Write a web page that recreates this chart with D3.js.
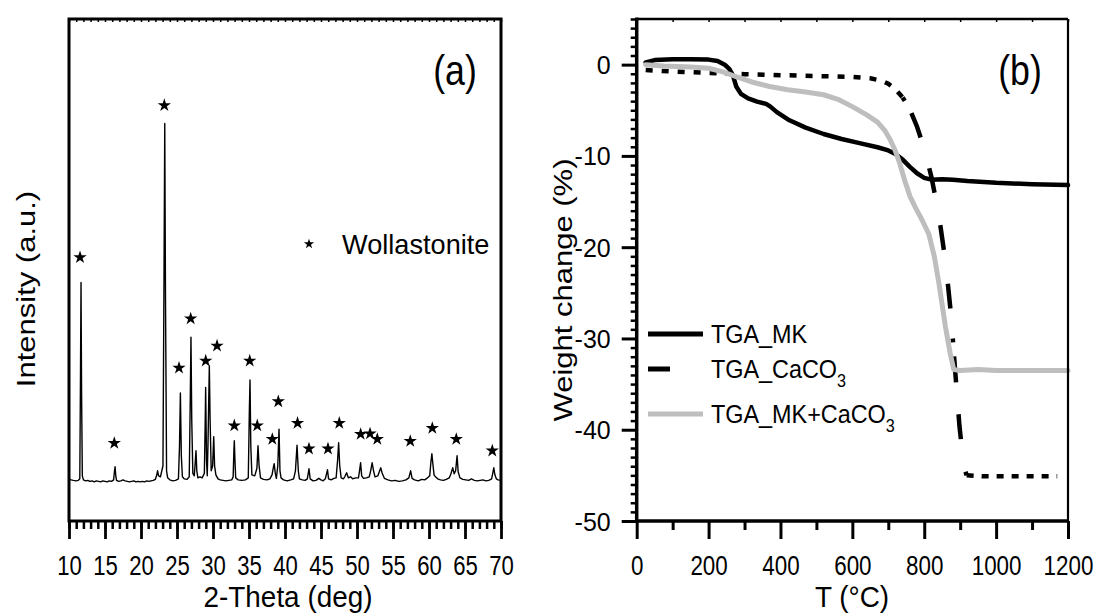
<!DOCTYPE html>
<html><head><meta charset="utf-8">
<script src="https://cdn.jsdelivr.net/npm/d3@7/dist/d3.min.js"></script>
<style>
body{margin:0;background:#fff;}
text{font-family:"Liberation Sans",Arial,sans-serif;fill:#000;}
</style></head>
<body><svg id="c" width="1098" height="614"></svg>
<script>
// ---------- DATA ----------
const xrdTheta = [10.0,10.3,10.6,11.0,11.3,11.5,11.6,11.67,11.75,11.85,12.0,12.3,12.6,12.9,13.2,13.5,13.8,14.1,14.4,14.7,15.0,15.3,15.6,15.9,16.2,16.32,16.4,16.5,16.6,16.9,17.2,17.5,17.8,18.1,18.4,18.7,19.0,19.3,19.6,19.9,20.2,20.5,20.8,21.1,21.4,21.7,22.0,22.2,22.3,22.45,22.7,23.05,23.2,23.3,23.4,23.55,23.7,24.0,24.4,24.8,25.2,25.35,25.47,25.6,25.75,26.0,26.4,26.7,26.85,26.94,27.05,27.2,27.4,27.55,27.64,27.75,27.9,28.2,28.5,28.8,28.92,28.98,29.1,29.2,29.3,29.49,29.6,29.75,29.95,30.1,30.22,30.4,30.7,31.0,31.4,31.8,32.2,32.6,32.8,32.9,32.96,33.05,33.15,33.5,34.0,34.5,34.9,35.05,35.14,35.25,35.4,35.8,36.1,36.25,36.4,36.6,37.0,37.5,37.9,38.2,38.4,38.5,38.65,38.8,39.0,39.17,39.3,39.45,39.8,40.3,40.8,41.2,41.45,41.67,41.85,42.0,42.4,42.8,43.1,43.33,43.5,43.9,44.3,44.7,45.0,45.3,45.6,45.9,46.05,46.4,46.8,47.1,47.3,47.45,47.6,47.8,48.1,48.3,48.56,48.8,49.1,49.4,49.8,50.2,50.35,50.5,50.65,50.9,51.3,51.7,51.9,52.1,52.3,52.5,52.9,53.1,53.3,53.5,53.8,54.3,54.8,55.3,55.8,56.3,56.8,57.2,57.45,57.65,58.0,58.5,59.0,59.4,59.8,60.1,60.25,60.4,60.55,60.7,60.9,61.2,61.6,62.0,62.4,62.8,63.0,63.3,63.5,63.7,63.9,64.05,64.3,64.7,65.1,65.5,65.9,66.3,66.7,67.1,67.5,67.9,68.3,68.7,68.85,69.0,69.15,69.35,69.6,70.0];
const xrdCounts = [84,82,81,80,81,84,300,475,250,90,82,80,81,79,80,78,80,79,78,80,79,78,80,79,82,100,108,90,81,79,80,82,80,79,78,79,80,78,79,78,79,78,80,79,80,81,83,92,100,90,88,110,500,792,450,100,86,82,80,81,84,150,255,130,88,84,83,88,250,366,200,95,90,120,140,100,86,88,86,95,200,266,120,90,150,309,200,100,110,168,110,92,84,82,81,80,81,82,88,140,160,120,86,82,81,82,86,220,281,150,92,90,105,150,110,86,83,82,84,92,108,114,95,85,110,183,100,86,82,80,82,84,100,151,100,84,82,81,84,104,84,80,81,85,82,80,84,102,84,82,85,86,120,156,110,86,84,88,96,86,88,84,86,86,100,116,90,85,86,88,100,116,100,88,90,98,106,95,85,82,80,81,79,80,82,86,100,85,82,80,83,82,86,90,115,134,112,92,88,84,82,81,83,86,92,106,94,100,130,98,86,83,82,81,84,81,80,81,82,80,81,84,95,106,92,84,82,81];
const starTheta = [11.53,16.29,23.24,25.28,26.9,28.99,30.56,32.96,35.1,36.15,38.24,39.07,41.74,43.33,45.97,47.54,50.51,51.81,52.82,57.4,60.46,63.79,68.79];
const starCounts = [525,155,828,305,403,319,349,190,319,190,163,238,195,144,144,195,173,174,163,159,185,163,140];
const xrdTicks = [10,15,20,25,30,35,40,45,50,55,60,65,70];

const mkT = [25,50,100,150,200,225,245,258,268,277,290,310,335,360,372,390,425,470,520,570,620,670,700,720,740,760,780,800,820,850,880,920,1000,1100,1200];
const mkW = [0.25,0.5,0.6,0.6,0.55,0.4,0.0,-0.5,-1.2,-2.4,-3.2,-3.7,-4.05,-4.3,-4.6,-5.2,-6.1,-6.9,-7.6,-8.15,-8.6,-9.05,-9.4,-9.8,-10.4,-11.2,-11.9,-12.4,-12.6,-12.55,-12.6,-12.75,-12.95,-13.1,-13.2];
const caT = [25,100,200,300,400,500,600,650,680,700,720,740,760,780,800,820,840,860,875,885,898,910,918,960,1000,1100,1170];
const caW = [-0.6,-0.75,-0.9,-1.05,-1.15,-1.25,-1.35,-1.5,-1.75,-2.1,-2.7,-3.6,-4.9,-6.8,-9.2,-12.3,-16.3,-21.8,-27.6,-33.0,-39.6,-44.0,-45.0,-45.1,-45.1,-45.1,-45.1];
const mixT = [25,75,150,200,240,275,320,370,420,470,520,560,600,640,670,690,705,718,730,745,760,776,795,813,828,841,859,872,882,900,950,1000,1100,1200];
const mixW = [0,-0.15,-0.25,-0.4,-0.8,-1.3,-1.9,-2.4,-2.75,-3.0,-3.3,-3.8,-4.6,-5.5,-6.3,-7.2,-8.2,-9.3,-10.6,-12.6,-14.4,-15.7,-17.1,-18.6,-21.0,-24.0,-28.7,-31.6,-33.4,-33.5,-33.4,-33.5,-33.5,-33.5];
const tgaXTicks = [0,200,400,600,800,1000,1200];
const tgaYTicks = [0,-10,-20,-30,-40,-50];
const legendNames = ["TGA_MK","TGA_CaCO","TGA_MK+CaCO"];

// ---------- SETUP ----------
const svg = d3.select("#c");
const FONT = '"Liberation Sans",Arial,sans-serif';

function label(x, y, str, size, anchor, sx, rot) {
  const g = svg.append("g").attr("transform",
    `translate(${x},${y})` + (rot ? ` rotate(${rot}) scale(1,${sx})` : ` scale(${sx},1)`));
  return g.append("text").attr("text-anchor", anchor).attr("dominant-baseline","central")
    .style("font-size", size + "px").text(str);
}

// ---------- PANEL A ----------
const ax = d3.scaleLinear().domain([10, 70]).range([69, 501]);
const ay = d3.scaleLinear().domain([0, 1000]).range([521, 19]);

const gA = svg.append("g");
const pts = xrdTheta.map((t, i) => [t, xrdCounts[i]]);
gA.append("path").datum(pts)
  .attr("d", d3.line().x(d => ax(d[0])).y(d => ay(d[1])))
  .attr("fill","none").attr("stroke","#000").attr("stroke-width",1.4).attr("stroke-linejoin","round");

gA.selectAll(".star").data(starTheta).join("path")
  .attr("d", d3.symbol(d3.symbolStar, 55))
  .attr("transform", (d, i) => `translate(${ax(d)},${ay(starCounts[i])})`)
  .attr("fill","#000");

// frame
gA.append("rect").attr("x",69).attr("y",19).attr("width",432).attr("height",502)
  .attr("fill","none").attr("stroke","#000").attr("stroke-width",3);

// bottom axis: minor + major
const axMinor = d3.axisBottom(ax).tickValues(d3.range(10, 71, 1)).tickSize(8).tickFormat("");
const gAm = gA.append("g").attr("transform","translate(0,521)").call(axMinor);
gAm.select(".domain").remove();
gAm.selectAll("line").attr("stroke-width",2.5);
const axMajor = d3.axisBottom(ax).tickValues(xrdTicks).tickSize(18).tickFormat(d3.format("d"));
const gAM = gA.append("g").attr("transform","translate(0,521)").call(axMajor);
gAM.select(".domain").remove();
gAM.selectAll("line").attr("stroke-width",2.8);
gAM.selectAll("text").style("font-size","28px").style("font-family",FONT)
  .attr("dy",null).attr("y",44).attr("dominant-baseline","central").attr("transform","scale(0.79,1)");
// top mirrored inward small ticks
const axTop = d3.axisTop(ax).tickValues(d3.range(10, 71, 1)).tickSize(-3).tickFormat("");
const gAt = gA.append("g").attr("transform","translate(0,19)").call(axTop);
gAt.select(".domain").remove();
gAt.selectAll("line").attr("stroke-width",1.5);

label(455, 70, "(a)", 42, "middle", 0.85);
svg.append("path").attr("d", d3.symbol(d3.symbolStar, 32)()).attr("transform","translate(309,244)");
label(342, 244, "Wollastonite", 28, "start", 0.97);
label(288, 597, "2-Theta (deg)", 30, "middle", 0.93);
label(26, 289, "Intensity (a.u.)", 31, "middle", 0.85, -90);

// ---------- PANEL B ----------
const bx = d3.scaleLinear().domain([0, 1200]).range([636.7, 1068]);
const by = d3.scaleLinear().domain([-50, 5]).range([521, 19]);
const gB = svg.append("g");
const line = d3.line().x(d => bx(d[0])).y(d => by(d[1]));

const mixPts = mixT.map((t, i) => [t, mixW[i]]);
const mkPts = mkT.map((t, i) => [t, mkW[i]]);
const caPts = caT.map((t, i) => [t, caW[i]]);

// CaCO3: dash style varies along the curve (dotted on flat parts, long dashes on the step)
const caFlat = caPts.filter(d => d[0] <= 745);
const caStep = caPts.filter(d => d[0] >= 740 && d[0] <= 918);
const caEnd = caPts.filter(d => d[0] >= 918);
gB.append("path").attr("d", line(caFlat)).attr("fill","none").attr("stroke","#000")
  .attr("stroke-width",4.5).attr("stroke-dasharray","7 9");
gB.append("path").attr("d", line(caStep)).attr("fill","none").attr("stroke","#000")
  .attr("stroke-width",4.5).attr("stroke-dasharray","4 14 26 32 25 33 25 34 25 30");
gB.append("path").attr("d", line(caEnd)).attr("fill","none").attr("stroke","#000")
  .attr("stroke-width",4.5).attr("stroke-dasharray","7 8");

gB.append("path").attr("d", line(mkPts)).attr("fill","none").attr("stroke","#000")
  .attr("stroke-width",4.5).attr("stroke-linejoin","round").attr("stroke-linecap","round");
gB.append("path").attr("d", line(mixPts)).attr("fill","none").attr("stroke","#bebebe")
  .attr("stroke-width",5).attr("stroke-linejoin","round").attr("stroke-linecap","round");

// frame
gB.append("line").attr("x1",636.7).attr("x2",1068).attr("y1",19).attr("y2",19).attr("stroke","#000").attr("stroke-width",2.5);
gB.append("line").attr("x1",1068).attr("x2",1068).attr("y1",19).attr("y2",521).attr("stroke","#000").attr("stroke-width",2.2);
gB.append("line").attr("x1",636.7).attr("x2",636.7).attr("y1",17.5).attr("y2",522.7).attr("stroke","#000").attr("stroke-width",3.5);
gB.append("line").attr("x1",635).attr("x2",1069).attr("y1",521).attr("y2",521).attr("stroke","#000").attr("stroke-width",3.5);

// x axis
const bxMinor = d3.axisBottom(bx).tickValues(d3.range(100, 1200, 200)).tickSize(9).tickFormat("");
const gBm = gB.append("g").attr("transform","translate(0,521)").call(bxMinor);
gBm.select(".domain").remove(); gBm.selectAll("line").attr("stroke-width",3);
const bxMajor = d3.axisBottom(bx).tickValues(tgaXTicks).tickSize(18).tickFormat(d3.format("d"));
const gBM = gB.append("g").attr("transform","translate(0,521)").call(bxMajor);
gBM.select(".domain").remove(); gBM.selectAll("line").attr("stroke-width",3);
gBM.selectAll("text").style("font-size","28px").style("font-family",FONT)
  .attr("dy",null).attr("y",44).attr("dominant-baseline","central").attr("transform","scale(0.8,1)");
const bxTop = d3.axisTop(bx).tickValues(d3.range(0, 1201, 100)).tickSize(-3).tickFormat("");
const gBt = gB.append("g").attr("transform","translate(0,19)").call(bxTop);
gBt.select(".domain").remove(); gBt.selectAll("line").attr("stroke-width",1.5);

// y axis
const byMinor = d3.axisLeft(by).tickValues(d3.range(-49, 6, 1).filter(v => v % 10 !== 0)).tickSize(6).tickFormat("");
const gByM = gB.append("g").attr("transform","translate(636.7,0)").call(byMinor);
gByM.select(".domain").remove(); gByM.selectAll("line").attr("stroke-width",2.5);
const byMajor = d3.axisLeft(by).tickValues(tgaYTicks).tickSize(15).tickPadding(11).tickFormat(d3.format("d"));
const gByJ = gB.append("g").attr("transform","translate(636.7,0)").call(byMajor);
gByJ.select(".domain").remove(); gByJ.selectAll("line").attr("stroke-width",3);
gByJ.selectAll("text").style("font-size","25px").style("font-family",FONT)
  .attr("dy",null).attr("dominant-baseline","central").text(d => String(d));

label(1020, 70, "(b)", 42, "middle", 0.85);
label(852, 597, "T (°C)", 30, "middle", 0.93);
label(563, 290, "Weight change (%)", 31, "middle", 0.85, -90);

// legend
const lg = gB.append("g");
lg.append("line").attr("x1",648).attr("x2",703).attr("y1",334).attr("y2",334).attr("stroke","#000").attr("stroke-width",5);
lg.append("line").attr("x1",648).attr("x2",670).attr("y1",369).attr("y2",369).attr("stroke","#000").attr("stroke-width",5);
lg.append("line").attr("x1",648).attr("x2",703).attr("y1",414).attr("y2",414).attr("stroke","#bebebe").attr("stroke-width",5);
label(711, 334, legendNames[0], 26, "start", 0.9);
const t2 = label(711, 369, legendNames[1], 26, "start", 0.9);
t2.append("tspan").attr("dy", 12).style("font-size","18px").text("3");
const t3 = label(711, 414, legendNames[2], 26, "start", 0.9);
t3.append("tspan").attr("dy", 12).style("font-size","18px").text("3");
</script></body></html>
